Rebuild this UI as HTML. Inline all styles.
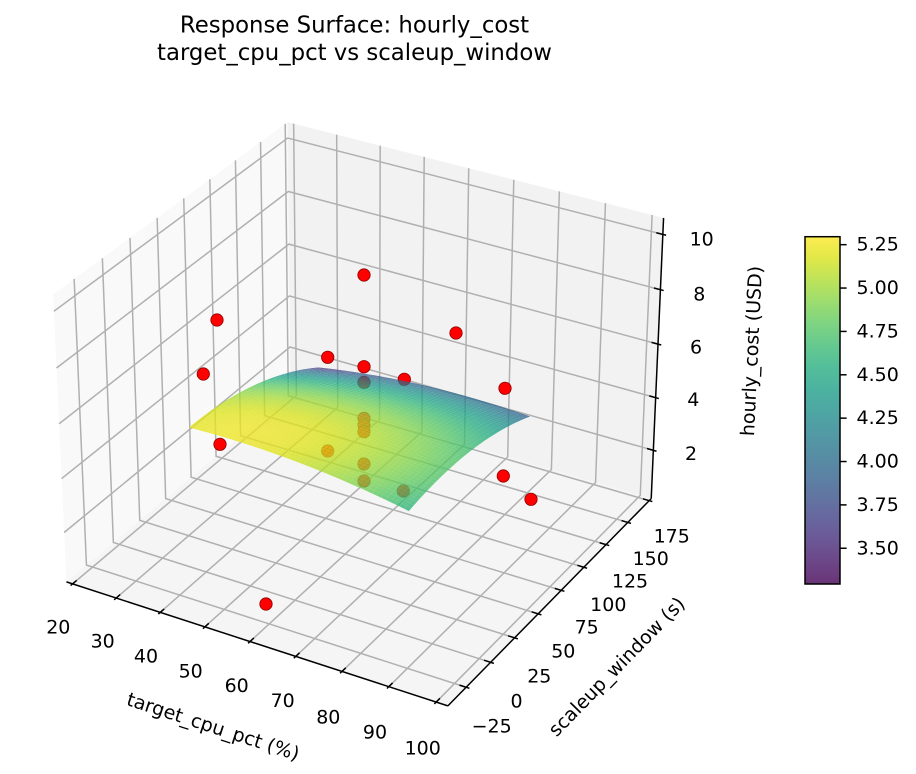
<!DOCTYPE html>
<html><head><meta charset="utf-8"><style>
html,body{margin:0;padding:0;background:#fff;}
svg{display:block;font-family:"DejaVu Sans","Liberation Sans",sans-serif;}
</style></head><body>
<svg id="s" width="916" height="774" viewBox="0 0 916 774" xmlns="http://www.w3.org/2000/svg">
<defs>
<linearGradient id="vir" x1="0" y1="1" x2="0" y2="0">
<stop offset="0" stop-color="#440154"/><stop offset="0.0625" stop-color="#48186a"/><stop offset="0.125" stop-color="#472d7b"/><stop offset="0.1875" stop-color="#424086"/><stop offset="0.25" stop-color="#3b528b"/><stop offset="0.3125" stop-color="#33638d"/><stop offset="0.375" stop-color="#2c728e"/><stop offset="0.4375" stop-color="#26828e"/><stop offset="0.5" stop-color="#21918c"/><stop offset="0.5625" stop-color="#1fa088"/><stop offset="0.625" stop-color="#28ae80"/><stop offset="0.6875" stop-color="#3fbc73"/><stop offset="0.75" stop-color="#5ec962"/><stop offset="0.8125" stop-color="#84d44b"/><stop offset="0.875" stop-color="#addc30"/><stop offset="0.9375" stop-color="#d8e219"/><stop offset="1" stop-color="#fde725"/>
</linearGradient>
</defs>
<rect width="916" height="774" fill="#fff"/>
<g id="g"></g>
<!-- title -->
<text x="354.5" y="32.5" font-size="22.8" text-anchor="middle" fill="#000">Response Surface: hourly_cost</text>
<text x="354.5" y="59.8" font-size="22.8" text-anchor="middle" fill="#000">target_cpu_pct vs scaleup_window</text>
<!-- x tick labels -->
<g font-size="19" text-anchor="middle" dominant-baseline="central" fill="#000">
<text x="58.3" y="627.7">20</text>
<text x="102.7" y="641.7">30</text>
<text x="146" y="656.7">40</text>
<text x="190.7" y="671.7">50</text>
<text x="236.7" y="686">60</text>
<text x="282.7" y="701">70</text>
<text x="328.3" y="717.3">80</text>
<text x="375" y="732.7">90</text>
<text x="422.7" y="748.3">100</text>
<!-- y tick labels -->
<text x="671.7" y="536.7">175</text>
<text x="650.7" y="559">150</text>
<text x="630" y="581.7">125</text>
<text x="608.3" y="605">100</text>
<text x="586.7" y="627.7">75</text>
<text x="563.3" y="651.7">50</text>
<text x="539.3" y="676.7">25</text>
<text x="516.5" y="701.7">0</text>
<text x="491.7" y="726.7">−25</text>
<!-- z tick labels -->
<text x="701.7" y="239.3">10</text>
<text x="699.3" y="294.3">8</text>
<text x="696" y="347.7">6</text>
<text x="693.3" y="400">4</text>
<text x="691" y="454">2</text>
</g>
<!-- axis labels -->
<g font-size="19" text-anchor="middle" dominant-baseline="central" fill="#000">
<text transform="translate(213,727) rotate(18.1)">target_cpu_pct (%)</text>
<text transform="translate(617,667) rotate(-45.7)">scaleup_window (s)</text>
<text transform="translate(752,351) rotate(-87.3)">hourly_cost (USD)</text>
</g>
<!-- colorbar -->
<rect x="805" y="236.7" width="35" height="347.3" fill="url(#vir)" fill-opacity="0.8"/>
<rect x="805" y="236.7" width="35" height="347.3" fill="none" stroke="#000" stroke-width="1.5"/>
<g id="cb" stroke="#000" stroke-width="1.5"></g>
<g font-size="19" dominant-baseline="central" fill="#000">
<text x="856.5" y="244.7">5.25</text>
<text x="856.5" y="288.1">5.00</text>
<text x="856.5" y="331.5">4.75</text>
<text x="856.5" y="374.8">4.50</text>
<text x="856.5" y="418.2">4.25</text>
<text x="856.5" y="461.6">4.00</text>
<text x="856.5" y="504.9">3.75</text>
<text x="856.5" y="548.3">3.50</text>
</g>
</svg>
<script>
(function(){
const NS="http://www.w3.org/2000/svg";
const g=document.getElementById('g');
const XL=[18.57,102.44], YL=[-43.3,177.4], ZL=[0.14,10.59];
const BA=[1.142857,1.142857,0.857143];
const E=[4.901556,-6.928571,5.428571];
const U=[0.8660254,0.5,0], V=[-0.25,0.4330127,0.8660254], W=[0.4330127,-0.75,0.5];
const S=3825, OX=364.0, OY=400.5;
function pn(fx,fy,fz){
  const X=fx*BA[0]-E[0], Y=fy*BA[1]-E[1], Z=fz*BA[2]-E[2];
  const a=U[0]*X+U[1]*Y, b=V[0]*X+V[1]*Y+V[2]*Z, c=W[0]*X+W[1]*Y+W[2]*Z;
  return [OX+S*a/(-c), OY-S*b/(-c), -c];
}
function fxv(x){return (x-XL[0])/(XL[1]-XL[0]);}
function fyv(y){return (y-YL[0])/(YL[1]-YL[0]);}
function fzv(z){return (z-ZL[0])/(ZL[1]-ZL[0]);}
function pd(x,y,z){return pn(fxv(x),fyv(y),fzv(z));}
function el(parent,tag,attrs){const e=document.createElementNS(NS,tag);for(const k in attrs)e.setAttribute(k,attrs[k]);parent.appendChild(e);return e;}
function pts(arr){return arr.map(p=>p[0].toFixed(2)+','+p[1].toFixed(2)).join(' ');}

// panes
el(g,'polygon',{points:pts([pn(0,0,0),pn(0,1,0),pn(0,1,1),pn(0,0,1)]),fill:'#f9f9f9'});
el(g,'polygon',{points:pts([pn(0,1,0),pn(1,1,0),pn(1,1,1),pn(0,1,1)]),fill:'#f2f2f2'});
el(g,'polygon',{points:pts([pn(0,0,0),pn(1,0,0),pn(1,1,0),pn(0,1,0)]),fill:'#f5f5f5'});

// grid
const gs={fill:'none',stroke:'#b0b0b0','stroke-width':1.5};
for(let x=20;x<=100;x+=10){const f=fxv(x);el(g,'polyline',Object.assign({points:pts([pn(f,0,0),pn(f,1,0),pn(f,1,1)])},gs));}
for(let y=-25;y<=175;y+=25){const f=fyv(y);el(g,'polyline',Object.assign({points:pts([pn(1,f,0),pn(0,f,0),pn(0,f,1)])},gs));}
for(let z=2;z<=10;z+=2){const f=fzv(z);el(g,'polyline',Object.assign({points:pts([pn(0,0,f),pn(0,1,f),pn(1,1,f)])},gs));}

// axis lines
const as={fill:'none',stroke:'#000','stroke-width':1.5};
el(g,'polyline',Object.assign({points:pts([pn(0,0,0),pn(1,0,0)])},as));
el(g,'polyline',Object.assign({points:pts([pn(1,0,0),pn(1,1,0)])},as));
el(g,'polyline',Object.assign({points:pts([pn(1,1,0),pn(1,1,1)])},as));
const o=0.1/12, inn=0.2/12;
for(let x=20;x<=100;x+=10){const f=fxv(x);el(g,'polyline',Object.assign({points:pts([pn(f,-o,0),pn(f,inn,0)])},as));}
for(let y=-25;y<=175;y+=25){const f=fyv(y);el(g,'polyline',Object.assign({points:pts([pn(1+o,f,0),pn(1-inn,f,0)])},as));}
for(let z=2;z<=10;z+=2){const f=fzv(z);el(g,'polyline',Object.assign({points:pts([pn(1+o,1,f),pn(1-inn,1,f)])},as));}

// scatter (drawn before the surface)
const P=[[364,275],[217,320],[456,333],[327.7,357.3],[364,366.7],[203.3,374],[404.3,379.3],[505,388.3],[364,382.3],[220,444.3],[364,418.3],[364,425],[364,431.7],[327.7,451],[364,464],[364,481],[403.3,491],[503.3,476],[531,499.3],[266,604]];
for(const p of P){el(g,'circle',{cx:p[0],cy:p[1],r:6.2,fill:'#ff0000',stroke:'#8b0000','stroke-width':0.8});}

// viridis
const VS=[[68,1,84],[72,24,106],[71,45,123],[66,64,134],[59,82,139],[51,99,141],[44,114,142],[38,130,142],[33,145,140],[31,160,136],[40,174,128],[63,188,115],[94,201,98],[132,212,75],[173,220,48],[216,226,25],[253,231,37]];
function vir(t){t=Math.max(0,Math.min(1,t));const s=t*16;const i=Math.min(15,Math.floor(s));const f=s-i;const a=VS[i],b=VS[i+1];
  return 'rgb('+Math.round(a[0]+(b[0]-a[0])*f)+','+Math.round(a[1]+(b[1]-a[1])*f)+','+Math.round(a[2]+(b[2]-a[2])*f)+')';}

// surface
function zf(x,y){const u=(x-60)/24, w=(y-67.1)/63.5;return 4.97-0.0525*u-0.6075*w-0.245*u*u-0.445*w*w+0.2675*u*w;}
const N=49, x0=36,x1=84,y0=3.6,y1=130.6, zmin=3.294, zmax=5.296;
const polys=[];
const grid=[];
for(let i=0;i<=N;i++){grid.push([]);for(let j=0;j<=N;j++){const x=x0+(x1-x0)*i/N, y=y0+(y1-y0)*j/N;const z=zf(x,y);grid[i].push({p:pd(x,y,z),z:z});}}
for(let i=0;i<N;i++)for(let j=0;j<N;j++){
  const a=grid[i][j],b=grid[i+1][j],c=grid[i+1][j+1],d=grid[i][j+1];
  const za=(a.z+b.z+c.z+d.z)/4, dep=(a.p[2]+b.p[2]+c.p[2]+d.p[2])/4;
  polys.push({pts:[a.p,b.p,c.p,d.p],col:vir((za-zmin)/(zmax-zmin)),dep:dep});
}
polys.sort((m,n)=>n.dep-m.dep);
const sg=el(g,'g',{'fill-opacity':0.8});
for(const q of polys){el(sg,'polygon',{points:pts(q.pts),fill:q.col});}

// colorbar ticks
const cb=document.getElementById('cb');
for(const v of [3.5,3.75,4.0,4.25,4.5,4.75,5.0,5.25]){const y=584-(v-zmin)/(zmax-zmin)*347.3;el(cb,'line',{x1:840,y1:y.toFixed(2),x2:846.6,y2:y.toFixed(2)});}
})();
</script>
</body></html>
